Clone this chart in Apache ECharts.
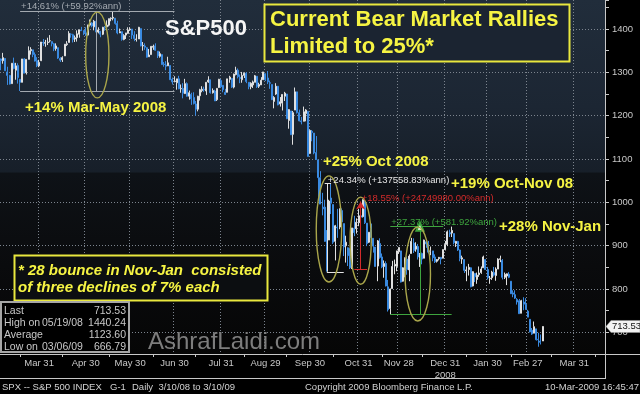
<!DOCTYPE html>
<html>
<head>
<meta charset="utf-8">
<script src="https://cdn.jsdelivr.net/npm/echarts/dist/echarts.min.js"></script>
<style>
html,body{margin:0;padding:0;background:#000;}
#chart{width:640px;height:394px;}
</style>
</head>
<body>
<div id="chart"></div>
<script>
// ---------- categories (trading days) ----------
const firstDay = '2008-03-04';
const lastAxisDay = '2009-04-21';
const holidays = ['2008-03-21','2008-05-26','2008-07-04','2008-09-01','2008-11-27','2008-12-25',
                  '2009-01-01','2009-01-19','2009-02-16','2009-04-10'];
const monthEnds = ['2008-03-31','2008-04-30','2008-05-30','2008-06-30','2008-07-31','2008-08-29',
                   '2008-09-30','2008-10-31','2008-11-28','2008-12-31','2009-01-30','2009-02-27','2009-03-31'];
const monthEndLabels = ['Mar 31','Apr 30','May 30','Jun 30','Jul 31','Aug 29','Sep 30','Oct 31',
                        'Nov 28','Dec 31\n2008','Jan 30','Feb 27','Mar 31'];
const midMonthTicks = ['2008-03-17','2008-04-15','2008-05-15','2008-06-16','2008-07-15','2008-08-15',
                       '2008-09-15','2008-10-15','2008-11-17','2008-12-15','2009-01-15','2009-02-17',
                       '2009-03-16','2009-04-15'];
const yTickLabels = [700,800,900,1000,1100,1200,1300,1400];

// ---------- daily OHLC, S&P 500, 2008-03-04 .. 2009-03-10 ----------
const opens = [
 1331,1327,1332,1301,1293,1274,1321,1305,1316,1284,1277,1331,1299,1330,1350,1352,1341,1327,1315,
 1327,1369,1367,1369,1373,1371,1366,1355,1357,1332,1329,1338,1364,1369,1388,1387,1377,1380,1388,1398,1396,1391,
 1386,1409,1414,1405,1418,1393,1395,1388,1404,1405,1409,1424,1425,1425,1413,1391,1394,1376,1386,1390,1398,
 1400,1386,1376,1377,1401,1361,1361,1357,1336,1341,1358,1361,1349,1337,1341,1319,1317,1315,1316,1284,1279,
 1276,1285,1262,1263,1251,1274,1245,1249,1242,1227,1215,1246,1258,1261,1257,1278,1283,1253,1257,1237,1265,1281,
 1270,1254,1254,1284,1286,1266,1295,1305,1288,1283,1293,1298,1277,1267,1271,1277,1291,1268,1271,1283,1297,
 1287,1276,1272,1233,1250,1268,1227,1229,1245,1250,1189,1211,1157,1213,1255,1207,1188,1187,1205,1210,1113,
 1164,1160,1115,1098,1057,989,989,903,913,1010,995,910,943,943,981,951,900,895,874,849,940,939,953,
 969,967,1002,952,908,937,917,897,853,905,874,852,859,805,755,801,853,852,886,
 888,818,843,869,844,882,906,892,898,871,882,871,909,905,887,888,874,864,870,873,871,891,
 903,930,929,928,905,910,890,869,868,842,845,849,807,836,822,833,838,849,868,845,
 824,826,838,831,846,868,866,827,830,834,818,791,787,776,773,744,770,765,749,
 730,705,698,708,684,680,680
];
const highs = [
 1332,1345,1333,1313,1294,1321,1334,1322,1321,1284,1331,1333,1330,1360,1358,1352,1346,1335,1329,
 1370,1377,1375,1380,1386,1371,1368,1367,1357,1335,1337,1365,1372,1395,1390,1389,1385,1397,1399,1405,1397,1404,
 1410,1422,1416,1421,1418,1404,1395,1405,1407,1420,1424,1427,1440.24,1425,1419,1401,1394,1388,1391,1404,1404,
 1400,1395,1388,1405,1401,1370,1367,1358,1354,1361,1364,1367,1349,1348,1341,1324,1326,1336,1316,1288,1291,
 1285,1292,1272,1275,1285,1277,1258,1253,1254,1234,1246,1262,1268,1267,1277,1291,1283,1263,1260,1264,1285,1285,
 1270,1262,1285,1292,1286,1297,1313,1309,1295,1301,1300,1300,1277,1277,1281,1294,1291,1276,1289,1301,1297,
 1303,1281,1272,1245,1275,1268,1243,1249,1255,1250,1215,1211,1211,1265,1255,1214,1197,1221,1215,1210,1168,
 1167,1160,1153,1098,1072,1022,1006,936,1006,1044,995,948,985,986,986,951,923,896,894,941,969,963,985,
 976,1007,1004,952,931,951,917,897,913,917,882,866,864,821,801,865,868,887,896,
 888,850,873,875,880,918,917,908,904,883,884,914,911,911,898,888,880,869,874,874,891,911,
 935,937,944,928,911,911,891,877,868,852,858,850,841,836,838,852,852,877,868,851,
 830,842,851,850,871,877,869,838,836,839,818,797,797,779,777,775,781,779,752,
 730,710,725,708,699,695,714
];
const lows = [
 1305,1320,1303,1271,1272,1274,1307,1283,1274,1257,1277,1298,1295,1330,1341,1335,1325,1312,1312,
 1326,1361,1359,1363,1369,1360,1349,1350,1331,1324,1324,1338,1361,1369,1380,1369,1370,1371,1380,1396,1386,1384,
 1385,1406,1404,1397,1389,1390,1381,1386,1396,1405,1406,1418,1420,1410,1388,1391,1373,1374,1377,1389,1396,
 1377,1372,1371,1377,1360,1350,1352,1334,1336,1341,1352,1350,1333,1334,1318,1313,1305,1315,1283,1272,1277,
 1260,1261,1253,1240,1250,1244,1237,1225,1226,1200,1210,1235,1254,1255,1248,1276,1251,1251,1234,1234,1264,1264,
 1254,1248,1254,1276,1264,1263,1293,1286,1275,1276,1287,1275,1261,1261,1264,1277,1264,1264,1271,1283,1280,
 1273,1262,1236,1217,1248,1224,1221,1212,1234,1192,1170,1156,1133,1213,1205,1187,1180,1187,1187,1106,1113,
 1141,1111,1098,1007,996,970,909,840,913,973,904,866,918,938,952,876,861,853,846,846,922,928,945,
 958,965,950,899,906,906,884,852,818,870,848,826,806,748,741,801,834,841,881,
 815,817,827,833,818,882,883,886,868,851,857,871,895,882,878,864,860,861,866,857,871,889,
 899,920,920,903,897,888,864,858,837,818,831,804,806,816,812,828,835,849,844,822,
 812,821,829,819,846,862,822,823,809,825,789,781,777,764,743,744,751,752,735,
 700,694,698,681,666.79,672,680
];
const closes = [
 1327,1334,1304,1293,1273,1321,1309,1315,1288,1277,1331,1298,1330,1350,1353,1341,1326,1315,1323,
 1370,1368,1369,1370,1373,1366,1354,1361,1333,1328,1334,1365,1366,1390,1388,1376,1380,1389,1398,1396,1391,1386,
 1409,1414,1407,1418,1393,1398,1388,1404,1403,1409,1424,1425,1427,1413,1391,1394,1376,1385,1391,1398,1400,
 1386,1378,1377,1404,1361,1362,1358,1335,1340,1360,1360,1351,1338,1343,1318,1318,1314,1322,1283,1278,1280,
 1285,1262,1263,1252,1274,1245,1253,1239,1228,1215,1245,1260,1261,1260,1277,1282,1253,1258,1234,1263,1284,1267,
 1260,1249,1285,1289,1266,1296,1305,1290,1286,1293,1298,1279,1267,1275,1278,1292,1267,1272,1282,1301,1283,
 1278,1275,1237,1242,1268,1225,1232,1249,1252,1193,1214,1156,1207,1255,1207,1188,1186,1209,1213,1106,1166,
 1161,1114,1099,1057,996,985,910,899,1003,998,908,946,941,985,955,897,908,877,849,941,930,954,969,
 966,1006,953,905,931,919,899,852,911,873,851,859,807,752,800,852,857,888,896,
 816,849,871,845,876,910,889,899,874,880,869,913,904,885,888,872,863,868,873,869,891,903,
 932,927,935,907,910,890,870,872,843,844,850,805,840,828,832,837,846,874,845,826,
 825,839,832,846,869,870,827,834,835,827,789,788,779,770,743,773,765,753,735,
 701,696,713,683,683,677,713.53
];

// ---------- stats panel ----------
const statLabels = ['Last','High on','Average','Low on'];
const statDates  = ['','05/19/08','','03/06/09'];
const statValues = ['713.53','1440.24','1123.60','666.79'];
const lastValue = 713.53;

// ---------- measurement annotations (data space) ----------
const measures = [
  {color:'#a3a9b0', text:'+14.61% (+59.92%ann)', low:1256.98, high:1440.24, topFrom:'2008-03-17', topTo:'2008-06-30',
   botFrom:'2008-03-17', botTo:'2008-06-30', vDate:'2008-05-07', arrow:'none', textDate:'2008-03-17', textDy:-5},
  {color:'#e4e4e4', text:'+24.34% (+137558.83%ann)', low:839.80, high:1044.24, topFrom:'2008-10-09', topTo:'2008-10-14',
   botFrom:'2008-10-10', botTo:'2008-10-22', vDate:'2008-10-10', arrow:'none', textDate:'2008-10-10', textDy:-3},
  {color:'#d42b2b', text:'+18.55% (+24749980.00%ann)', low:845.27, high:1002.10, topFrom:null, topTo:null,
   botFrom:'2008-10-29', botTo:'2008-11-06', vDate:'2008-11-03', arrow:'arrow', textDate:'2008-11-03', textDy:-3},
  {color:'#3ea53e', text:'+27.37% (+581.92%ann)', low:741.02, high:943.85, topFrom:'2008-11-21', topTo:'2008-12-30',
   botFrom:'2008-11-21', botTo:'2009-01-06', vDate:'2008-12-12', arrow:'emptyTriangle', textDate:'2008-11-21', textDy:-4}
];
const ellipses = [
  {d0:'2008-04-30', d1:'2008-05-15', v0:1241, v1:1439},
  {d0:'2008-10-03', d1:'2008-10-21', v0:816,  v1:1061},
  {d0:'2008-10-27', d1:'2008-11-10', v0:811,  v1:1012},
  {d0:'2008-12-03', d1:'2008-12-19', v0:726,  v1:943}
];

function tradingDays(a, b) {
  const out = [], hs = new Set(holidays);
  let t = Date.parse(a + 'T00:00:00Z');
  const e = Date.parse(b + 'T00:00:00Z');
  while (t <= e) {
    const d = new Date(t), wd = d.getUTCDay(), s = d.toISOString().slice(0, 10);
    if (wd !== 0 && wd !== 6 && !hs.has(s)) out.push(s);
    t += 86400000;
  }
  return out;
}
const dates = tradingDays(firstDay, lastAxisDay);
const candles = opens.map((o, i) => [o, closes[i], lows[i], highs[i]]);
const monthEndSet = new Set(monthEnds);
const midSet = new Set(midMonthTicks);
const labelOf = {};
monthEnds.forEach((d, i) => labelOf[d] = monthEndLabels[i]);
const idx = d => dates.indexOf(d);

const FONT = '"Liberation Sans", Arial, sans-serif';
const AX = '#c8c8c8';

const markData = [];
measures.forEach(m => {
  const ls = {color: m.color, width: 1, type: 'solid'};
  if (m.topFrom) markData.push([{coord:[idx(m.topFrom), m.high], lineStyle: ls, symbol:'none'}, {coord:[idx(m.topTo), m.high], symbol:'none'}]);
  markData.push([{coord:[idx(m.botFrom), m.low], lineStyle: ls, symbol:'none'}, {coord:[idx(m.botTo), m.low], symbol:'none'}]);
  markData.push([{coord:[idx(m.vDate), m.low], lineStyle: ls, symbol:'none'},
                 {coord:[idx(m.vDate), m.high], symbol: m.arrow, symbolSize: m.arrow === 'none' ? 0 : [7, 8]}]);
});

const chart = echarts.init(document.getElementById('chart'), null, {renderer: 'canvas'});
chart.setOption({
  animation: false,
  backgroundColor: '#000',
  grid: {
    left: 0, right: 35, top: 0, bottom: 40, show: true, borderWidth: 0,
    backgroundColor: new echarts.graphic.LinearGradient(0, 0, 0, 1, [
      {offset: 0, color: '#212d3b'}, {offset: 0.3, color: '#1c2633'},
      {offset: 0.485, color: '#171f29'}, {offset: 0.49, color: '#0e1217'},
      {offset: 0.75, color: '#0a0b0d'}, {offset: 1, color: '#060606'}])
  },
  xAxis: {
    type: 'category', data: dates, boundaryGap: true,
    axisLine: {show: true, lineStyle: {color: AX, width: 1}},
    axisTick: {show: true, alignWithLabel: true, length: 3, interval: (i, v) => midSet.has(v), lineStyle: {color: AX}},
    axisLabel: {show: true, interval: (i, v) => monthEndSet.has(v), formatter: v => labelOf[v] || '',
                color: AX, fontSize: 9.5, fontFamily: FONT, margin: 3, lineHeight: 12},
    splitLine: {show: true, interval: (i, v) => monthEndSet.has(v), lineStyle: {color: '#7c848e', type: [1, 2], width: 1}}
  },
  yAxis: {
    type: 'value', position: 'right', min: 650, max: 1467, interval: 50, scale: true,
    axisLine: {show: true, lineStyle: {color: AX, width: 1}},
    axisTick: {show: true, length: 4, lineStyle: {color: AX}},
    axisLabel: {color: AX, fontSize: 9.5, fontFamily: FONT, margin: 7,
                formatter: v => yTickLabels.indexOf(v) >= 0 ? String(v) : ''},
    splitLine: {show: true, showMaxLine: false, lineStyle: {color: ['rgba(0,0,0,0)', '#7c848e'], type: [1, 2], width: 1}}
  },
  series: [{
    type: 'candlestick', data: candles, barWidth: 1.5, silent: true, z: 3,
    itemStyle: {color: '#c4c4c4', color0: '#2b7fd6', borderColor: '#e0e0e0', borderColor0: '#3a8ae0', borderWidth: 1},
    markLine: {silent: true, animation: false, symbol: ['none', 'none'], label: {show: false},
               emphasis: {disabled: true}, data: markData}
  }]
});

const P = (d, v) => chart.convertToPixel({gridIndex: 0}, [idx(d), v]);
const g = [];
const Y = '#f6f443';

// ellipses
ellipses.forEach(e => {
  const a = P(e.d0, e.v1), b = P(e.d1, e.v0);
  g.push({type: 'ellipse', silent: true, z: 50,
    shape: {cx: (a[0] + b[0]) / 2, cy: (a[1] + b[1]) / 2, rx: Math.abs(b[0] - a[0]) / 2, ry: Math.abs(b[1] - a[1]) / 2},
    style: {fill: 'none', stroke: '#aaa64b', lineWidth: 1.4}});
});
// measurement texts
measures.forEach(m => {
  const p = P(m.textDate, m.high);
  g.push({type: 'text', silent: true, z: 51, style: {text: m.text, x: p[0] + 1, y: p[1] + m.textDy,
    fill: m.color, font: '9.5px ' + FONT, verticalAlign: 'middle', align: 'left'}});
});

// frame lines around the axis band
g.push({type: 'line', silent: true, z: 60, shape: {x1: 605, y1: 354.5, x2: 640, y2: 354.5}, style: {stroke: AX, lineWidth: 1}});
g.push({type: 'line', silent: true, z: 60, shape: {x1: 605.5, y1: 354, x2: 605.5, y2: 378.5}, style: {stroke: AX, lineWidth: 1}});
g.push({type: 'line', silent: true, z: 60, shape: {x1: 0, y1: 378.5, x2: 606, y2: 378.5}, style: {stroke: AX, lineWidth: 1}});

// last price tag
const ly = P(dates[closes.length - 1], lastValue)[1];
g.push({type: 'polygon', silent: true, z: 70,
  shape: {points: [[606, ly], [611, ly - 6], [640, ly - 6], [640, ly + 6], [611, ly + 6]]},
  style: {fill: '#f2f2f2', stroke: '#9a9a9a', lineWidth: 0.5}});
g.push({type: 'text', silent: true, z: 71, style: {text: lastValue.toFixed(2), x: 612, y: ly, fill: '#111',
  font: '9.5px ' + FONT, verticalAlign: 'middle'}});

// title texts
g.push({type: 'text', silent: true, z: 80, style: {text: 'S&P500', x: 165, y: 29, fill: '#f5f5f5',
  font: 'bold 22px ' + FONT, verticalAlign: 'middle'}});
g.push({type: 'rect', silent: true, z: 80, shape: {x: 264.5, y: 4.5, width: 305, height: 57},
  style: {fill: '#1b2431', stroke: '#e9e83e', lineWidth: 2}});
g.push({type: 'text', silent: true, z: 81, style: {text: 'Current Bear Market Rallies', x: 270, y: 20, fill: Y,
  font: 'bold 22px ' + FONT, verticalAlign: 'middle'}});
g.push({type: 'text', silent: true, z: 81, style: {text: 'Limited to 25%*', x: 270, y: 47, fill: Y,
  font: 'bold 22px ' + FONT, verticalAlign: 'middle'}});

// rally labels
[['+14% Mar-May 2008', 25, 108], ['+25% Oct 2008', 323, 162], ['+19% Oct-Nov 08', 451, 184], ['+28% Nov-Jan', 499, 227]]
  .forEach(t => g.push({type: 'text', silent: true, z: 82, style: {text: t[0], x: t[1], y: t[2], fill: Y,
    font: 'bold 15px ' + FONT, verticalAlign: 'middle'}}));

// footnote box
g.push({type: 'rect', silent: true, z: 80, shape: {x: 14.5, y: 255.5, width: 253, height: 45},
  style: {fill: '#0c0e11', stroke: '#e9e83e', lineWidth: 2}});
g.push({type: 'text', silent: true, z: 81, style: {text: '* 28 bounce in Nov-Jan  consisted', x: 18, y: 271, fill: Y,
  font: 'italic bold 15px ' + FONT, verticalAlign: 'middle'}});
g.push({type: 'text', silent: true, z: 81, style: {text: 'of three declines of 7% each', x: 18, y: 288, fill: Y,
  font: 'italic bold 15px ' + FONT, verticalAlign: 'middle'}});

// watermark
g.push({type: 'text', silent: true, z: 40, style: {text: 'AshrafLaidi.com', x: 148, y: 342, fill: '#7d7d7d',
  font: '24px ' + FONT, verticalAlign: 'middle'}});

// stats panel
g.push({type: 'rect', silent: true, z: 85, shape: {x: 1, y: 302, width: 128, height: 50},
  style: {fill: '#000', stroke: '#a6a6a6', lineWidth: 2}});
statLabels.forEach((s, i) => {
  const yy = 311 + i * 12;
  g.push({type: 'text', silent: true, z: 86, style: {text: s, x: 4, y: yy, fill: AX, font: '10.5px ' + FONT, verticalAlign: 'middle'}});
  if (statDates[i]) g.push({type: 'text', silent: true, z: 86, style: {text: statDates[i], x: 42, y: yy, fill: AX, font: '10.5px ' + FONT, verticalAlign: 'middle'}});
  g.push({type: 'text', silent: true, z: 86, style: {text: statValues[i], x: 126, y: yy, fill: AX, font: '10.5px ' + FONT, verticalAlign: 'middle', align: 'right'}});
});

// footer
[['SPX -- S&P 500 INDEX', 2, 'left'], ['G-1', 110, 'left'], ['Daily  3/10/08 to 3/10/09', 132, 'left'],
 ['Copyright 2009 Bloomberg Finance L.P.', 305, 'left'], ['10-Mar-2009 16:45:47', 639, 'right']]
  .forEach(t => g.push({type: 'text', silent: true, z: 90, style: {text: t[0], x: t[1], y: 387, fill: '#d2d2d2',
    font: '9.5px ' + FONT, verticalAlign: 'middle', align: t[2]}}));

chart.setOption({graphic: g});
</script>
</body>
</html>
